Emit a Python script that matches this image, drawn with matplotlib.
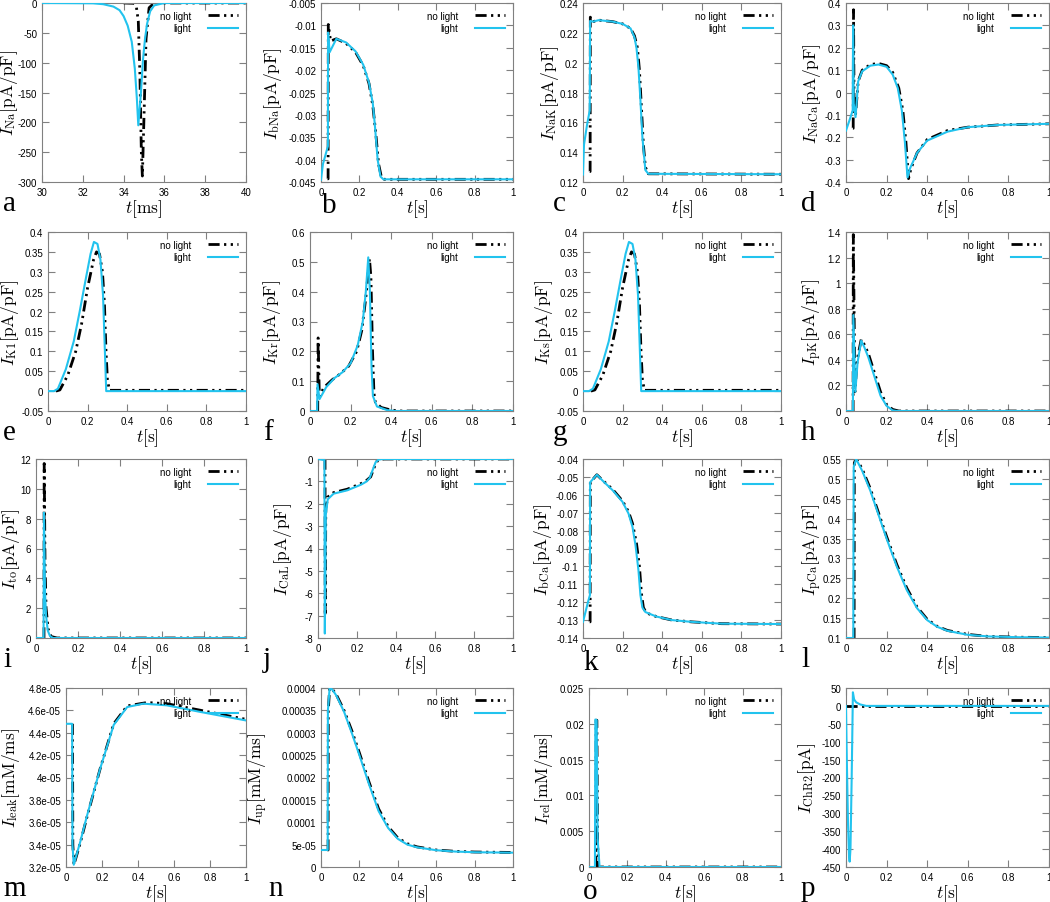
import numpy as np
import matplotlib
matplotlib.use('Agg')
from matplotlib import pyplot as plt
from matplotlib.ticker import FixedLocator, FormatStrFormatter

plt.rcParams['font.family'] = ['Liberation Sans', 'DejaVu Sans']
plt.rcParams['mathtext.fontset'] = 'cm'

LIGHT = '#22c3ee'
FRAME = '#808080'

# ---- data: (t, value) for "no light" (0) and "light" (1) ----
# a: I_Na, t in ms
na_t0 = [34.0, 34.5, 34.62, 34.72, 34.8, 34.87, 34.92, 35.0, 35.1, 35.25, 35.5, 40]
na_y0 = [0, -0.5, -5, -30, -120, -250, -290, -190, -60, -8, 0, 0]
na_t1 = [30, 32.5, 33.0, 33.5, 33.8, 34.0, 34.2, 34.4, 34.55, 34.65, 34.72, 34.85, 34.95, 35.05, 35.15, 35.3, 35.5, 36, 40]
na_y1 = [0, -0.5, -2, -6, -12, -22, -38, -65, -110, -160, -205, -150, -95, -60, -35, -14, -4, 0, 0]

# b: I_bNa
bna_t0 = [0.034, 0.037, 0.038, 0.05, 0.08, 0.13, 0.18, 0.22, 0.25, 0.27, 0.285, 0.3, 0.315, 0.33, 1.0]
bna_y0 = [-0.0443, -0.0443, -0.0098, -0.0135, -0.0130, -0.0140, -0.0160, -0.0190, -0.0230, -0.0280, -0.0340, -0.0410, -0.0440, -0.0444, -0.0444]
bna_t1 = [0, 0.01, 0.036, 0.037, 0.045, 0.08, 0.13, 0.18, 0.22, 0.25, 0.27, 0.28, 0.295, 0.31, 0.325, 1.0]
bna_y1 = [-0.0445, -0.041, -0.037, -0.0116, -0.0160, -0.0130, -0.0138, -0.0158, -0.0188, -0.0228, -0.0275, -0.0320, -0.0400, -0.0438, -0.0444, -0.0444]

# c: I_NaK
nak_t0 = [0.034, 0.036, 0.037, 0.05, 0.08, 0.15, 0.2, 0.24, 0.26, 0.275, 0.285, 0.295, 0.305, 0.315, 0.33, 1.0]
nak_y0 = [0.127, 0.127, 0.2305, 0.2275, 0.2285, 0.2275, 0.226, 0.223, 0.218, 0.21, 0.195, 0.17, 0.145, 0.13, 0.1255, 0.1252]
nak_t1 = [0, 0.005, 0.02, 0.034, 0.036, 0.05, 0.08, 0.15, 0.2, 0.24, 0.26, 0.27, 0.28, 0.29, 0.3, 0.315, 0.33, 1.0]
nak_y1 = [0.125, 0.145, 0.158, 0.168, 0.228, 0.2275, 0.2285, 0.2275, 0.226, 0.223, 0.217, 0.21, 0.197, 0.175, 0.15, 0.128, 0.1255, 0.1252]

# d: I_NaCa
naca_t0 = [0.034, 0.0355, 0.037, 0.04, 0.047, 0.06, 0.08, 0.12, 0.16, 0.2, 0.23, 0.26, 0.28, 0.295, 0.308, 0.32, 0.35, 0.4, 0.5, 0.6, 0.75, 1.0]
naca_y0 = [-0.16, -0.16, 0.37, -0.08, -0.1, 0.05, 0.1, 0.125, 0.13, 0.12, 0.09, 0.02, -0.08, -0.22, -0.385, -0.34, -0.27, -0.21, -0.17, -0.155, -0.145, -0.14]
naca_t1 = [0, 0.015, 0.033, 0.035, 0.038, 0.047, 0.06, 0.08, 0.12, 0.16, 0.2, 0.23, 0.255, 0.275, 0.29, 0.303, 0.315, 0.35, 0.4, 0.5, 0.6, 0.75, 1.0]
naca_y1 = [-0.17, -0.13, -0.08, 0.3, -0.05, -0.11, 0.05, 0.095, 0.12, 0.125, 0.115, 0.08, 0.02, -0.08, -0.22, -0.38, -0.34, -0.27, -0.215, -0.175, -0.155, -0.145, -0.14]

# e: I_K1
k1_t0 = [0.04, 0.06, 0.1, 0.14, 0.17, 0.2, 0.23, 0.245, 0.26, 0.275, 0.285, 0.293, 0.3, 0.31, 1.0]
k1_y0 = [0, 0.003, 0.04, 0.1, 0.17, 0.26, 0.33, 0.35, 0.345, 0.3, 0.22, 0.1, 0.03, 0.002, 0.002]
k1_t1 = [0, 0.03, 0.05, 0.09, 0.13, 0.16, 0.19, 0.215, 0.232, 0.25, 0.265, 0.278, 0.286, 0.294, 1.0]
k1_y1 = [0, 0, 0.006, 0.055, 0.125, 0.2, 0.28, 0.345, 0.375, 0.37, 0.33, 0.24, 0.12, 0.0, 0.0]

# f: I_Kr
kr_t0 = [0.034, 0.038, 0.04, 0.046, 0.07, 0.11, 0.15, 0.19, 0.23, 0.255, 0.275, 0.293, 0.3, 0.308, 0.315, 0.322, 0.35, 0.4, 0.45, 1.0]
kr_y0 = [0, 0, 0.245, 0.05, 0.08, 0.105, 0.125, 0.15, 0.2, 0.27, 0.38, 0.51, 0.45, 0.2, 0.06, 0.03, 0.012, 0.003, 0, 0]
kr_t1 = [0, 0.035, 0.037, 0.047, 0.08, 0.12, 0.16, 0.2, 0.235, 0.26, 0.275, 0.287, 0.295, 0.303, 0.31, 0.33, 0.38, 0.42, 1.0]
kr_y1 = [0, 0, 0.09, 0.04, 0.08, 0.11, 0.13, 0.16, 0.22, 0.3, 0.4, 0.515, 0.4, 0.15, 0.05, 0.015, 0.003, 0, 0]

# g: I_Ks
ks_t0 = [0.04, 0.06, 0.1, 0.14, 0.17, 0.2, 0.23, 0.245, 0.26, 0.275, 0.285, 0.293, 0.3, 0.31, 1.0]
ks_y0 = [0, 0.003, 0.04, 0.1, 0.17, 0.26, 0.33, 0.35, 0.345, 0.3, 0.22, 0.1, 0.03, 0.002, 0.002]
ks_t1 = [0, 0.03, 0.05, 0.09, 0.13, 0.16, 0.19, 0.215, 0.232, 0.25, 0.265, 0.278, 0.286, 0.294, 1.0]
ks_y1 = [0, 0, 0.006, 0.055, 0.125, 0.2, 0.28, 0.345, 0.375, 0.37, 0.33, 0.24, 0.12, 0.0, 0.0]

# h: I_pK
pk_t0 = [0.034, 0.035, 0.036, 0.044, 0.055, 0.075, 0.09, 0.11, 0.14, 0.17, 0.2, 0.23, 0.26, 1.0]
pk_y0 = [0, 0, 1.38, 0.15, 0.4, 0.56, 0.52, 0.45, 0.3, 0.15, 0.05, 0.012, 0, 0]
pk_t1 = [0, 0.034, 0.036, 0.046, 0.057, 0.075, 0.09, 0.11, 0.14, 0.17, 0.2, 0.23, 0.25, 1.0]
pk_y1 = [0, 0, 0.75, 0.15, 0.38, 0.55, 0.5, 0.42, 0.27, 0.12, 0.04, 0.005, 0, 0]

# i: I_to
to_t0 = [0.036, 0.038, 0.039, 0.043, 0.048, 0.058, 0.072, 0.1, 1.0]
to_y0 = [0, 0, 11.7, 5, 2, 0.6, 0.1, 0, 0]
to_t1 = [0, 0.036, 0.038, 0.043, 0.048, 0.056, 0.066, 0.08, 1.0]
to_y1 = [0, 0, 8.4, 3, 1.5, 0.5, 0.15, 0, 0]

# j: I_CaL
cal_t0 = [0.034, 0.036, 0.037, 0.04, 0.05, 0.08, 0.15, 0.22, 0.25, 0.27, 0.285, 0.3, 0.32, 0.34, 1.0]
cal_y0 = [0, 0, -7.0, -2.2, -1.7, -1.5, -1.35, -1.1, -0.95, -0.8, -0.45, -0.12, -0.02, 0, 0]
cal_t1 = [0, 0.033, 0.035, 0.04, 0.05, 0.08, 0.15, 0.22, 0.25, 0.265, 0.28, 0.295, 0.31, 0.33, 1.0]
cal_y1 = [0, -0.05, -7.8, -2.5, -1.8, -1.55, -1.4, -1.15, -1.0, -0.85, -0.5, -0.15, -0.03, 0, 0]

# k: I_bCa
bca_t0 = [0.034, 0.036, 0.037, 0.07, 0.1, 0.15, 0.2, 0.23, 0.25, 0.27, 0.285, 0.295, 0.305, 0.32, 0.37, 0.45, 0.55, 0.7, 1.0]
bca_y0 = [-0.131, -0.131, -0.053, -0.0488, -0.052, -0.057, -0.0635, -0.0695, -0.076, -0.087, -0.1, -0.115, -0.123, -0.126, -0.128, -0.13, -0.131, -0.132, -0.1322]
bca_t1 = [0, 0.025, 0.035, 0.036, 0.07, 0.1, 0.15, 0.2, 0.23, 0.25, 0.265, 0.28, 0.29, 0.3, 0.315, 0.37, 0.45, 0.55, 0.7, 1.0]
bca_y1 = [-0.131, -0.12, -0.116, -0.053, -0.0488, -0.0522, -0.0575, -0.064, -0.0705, -0.078, -0.088, -0.102, -0.116, -0.123, -0.1255, -0.128, -0.13, -0.131, -0.132, -0.1322]

# l: I_pCa
pca_t0 = [0.036, 0.04, 0.041, 0.05, 0.08, 0.12, 0.16, 0.2, 0.25, 0.3, 0.35, 0.4, 0.45, 0.5, 0.6, 0.7, 0.85, 1.0]
pca_y0 = [0.1, 0.1, 0.54, 0.552, 0.525, 0.475, 0.415, 0.355, 0.285, 0.225, 0.178, 0.147, 0.129, 0.119, 0.109, 0.104, 0.102, 0.101]
pca_t1 = [0, 0.036, 0.038, 0.05, 0.08, 0.12, 0.16, 0.2, 0.25, 0.3, 0.35, 0.4, 0.45, 0.5, 0.6, 0.7, 0.85, 1.0]
pca_y1 = [0.1, 0.1, 0.53, 0.55, 0.52, 0.47, 0.41, 0.35, 0.28, 0.22, 0.175, 0.145, 0.128, 0.118, 0.108, 0.104, 0.102, 0.101]

# m: I_leak
leak_t0 = [0.036, 0.038, 0.044, 0.08, 0.117, 0.19, 0.265, 0.34, 0.45, 0.56, 0.75, 1.0]
leak_y0 = [4.48e-5, 3.4e-5, 3.22e-5, 3.42e-5, 3.65e-5, 4.08e-5, 4.48e-5, 4.64e-5, 4.67e-5, 4.66e-5, 4.6e-5, 4.52e-5]
leak_t1 = [0, 0.034, 0.036, 0.043, 0.08, 0.117, 0.19, 0.265, 0.34, 0.43, 0.56, 0.75, 1.0]
leak_y1 = [4.48e-5, 4.48e-5, 3.4e-5, 3.22e-5, 3.43e-5, 3.66e-5, 4.08e-5, 4.47e-5, 4.63e-5, 4.66e-5, 4.645e-5, 4.585e-5, 4.51e-5]

# n: I_up
up_t0 = [0.034, 0.037, 0.038, 0.045, 0.06, 0.08, 0.12, 0.16, 0.2, 0.25, 0.3, 0.35, 0.4, 0.45, 0.5, 0.6, 0.7, 0.8, 1.0]
up_y0 = [3.8e-5, 3.8e-5, 3.5e-4, 4.0e-4, 3.97e-4, 3.85e-4, 3.5e-4, 3.05e-4, 2.55e-4, 1.9e-4, 1.3e-4, 9.0e-5, 6.5e-5, 5.2e-5, 4.5e-5, 3.8e-5, 3.5e-5, 3.35e-5, 3.25e-5]
up_t1 = [0, 0.035, 0.036, 0.045, 0.06, 0.08, 0.12, 0.16, 0.2, 0.25, 0.3, 0.35, 0.4, 0.45, 0.5, 0.6, 0.7, 0.8, 1.0]
up_y1 = [3.8e-5, 3.8e-5, 3.5e-4, 4.0e-4, 3.96e-4, 3.83e-4, 3.47e-4, 3.0e-4, 2.5e-4, 1.85e-4, 1.25e-4, 8.7e-5, 6.3e-5, 5.0e-5, 4.4e-5, 3.75e-5, 3.45e-5, 3.3e-5, 3.2e-5]

# o: I_rel
rel_t0 = [0.034, 0.036, 0.037, 0.041, 0.045, 0.05, 1.0]
rel_y0 = [0, 0, 0.0205, 0.0205, 0.003, 0, 0]
rel_t1 = [0, 0.031, 0.033, 0.04, 0.045, 0.055, 1.0]
rel_y1 = [0, 0, 0.0206, 0.0205, 0.004, 0, 0]

# p: I_ChR2
chr_t0 = [0, 1.0]
chr_y0 = [0, 0]
chr_t1 = [0, 0.004, 0.01, 0.015, 0.018, 0.022, 0.028, 0.034, 0.04, 0.05, 0.07, 0.1, 1.0]
chr_y1 = [0, -150, -330, -420, -435, -400, -200, 38, 18, 10, 4, 0, 0]

panels = [
    ('a', na_t0, na_y0, na_t1, na_y1, r'$I_{\rm Na}[{\rm pA/pF}]$', (-300, 0, 7)),
    ('b', bna_t0, bna_y0, bna_t1, bna_y1, r'$I_{\rm bNa}[{\rm pA/pF}]$', (-0.045, -0.005, 9)),
    ('c', nak_t0, nak_y0, nak_t1, nak_y1, r'$I_{\rm NaK}[{\rm pA/pF}]$', (0.12, 0.24, 7)),
    ('d', naca_t0, naca_y0, naca_t1, naca_y1, r'$I_{\rm NaCa}[{\rm pA/pF}]$', (-0.4, 0.4, 9)),
    ('e', k1_t0, k1_y0, k1_t1, k1_y1, r'$I_{\rm K1}[{\rm pA/pF}]$', (-0.05, 0.4, 10)),
    ('f', kr_t0, kr_y0, kr_t1, kr_y1, r'$I_{\rm Kr}[{\rm pA/pF}]$', (0, 0.6, 7)),
    ('g', ks_t0, ks_y0, ks_t1, ks_y1, r'$I_{\rm Ks}[{\rm pA/pF}]$', (-0.05, 0.4, 10)),
    ('h', pk_t0, pk_y0, pk_t1, pk_y1, r'$I_{\rm pK}[{\rm pA/pF}]$', (0, 1.4, 8)),
    ('i', to_t0, to_y0, to_t1, to_y1, r'$I_{\rm to}[{\rm pA/pF}]$', (0, 12, 7)),
    ('j', cal_t0, cal_y0, cal_t1, cal_y1, r'$I_{\rm CaL}[{\rm pA/pF}]$', (-8, 0, 9)),
    ('k', bca_t0, bca_y0, bca_t1, bca_y1, r'$I_{\rm bCa}[{\rm pA/pF}]$', (-0.14, -0.04, 11)),
    ('l', pca_t0, pca_y0, pca_t1, pca_y1, r'$I_{\rm pCa}[{\rm pA/pF}]$', (0.1, 0.55, 10)),
    ('m', leak_t0, leak_y0, leak_t1, leak_y1, r'$I_{\rm leak}[{\rm mM/ms}]$', (3.2e-5, 4.8e-5, 9)),
    ('n', up_t0, up_y0, up_t1, up_y1, r'$I_{\rm up}[{\rm mM/ms}]$', (0, 4e-4, 9)),
    ('o', rel_t0, rel_y0, rel_t1, rel_y1, r'$I_{\rm rel}[{\rm mM/ms}]$', (0, 0.025, 6)),
    ('p', chr_t0, chr_y0, chr_t1, chr_y1, r'$I_{\rm ChR2}[{\rm pA}]$', (-450, 50, 11)),
]

# layout in pixels: plot-area left edges, column right edges, row top/bottom,
# y-label centre x, panel-letter x and letter baseline offset below the axes
W, H = 1050, 903
lefts = [42, 321, 583, 846, 48, 310, 583, 846, 36, 318, 583, 846, 66, 321, 589, 846]
rights = [246, 513, 781, 1049]
rows = [(4, 183), (233, 412), (460, 639), (689, 868)]
ylab_x = [9.5, 273, 550, 812, 10, 272, 544, 812, 11, 283, 543, 812, 11, 258, 544, 807]
letter_x = [3, 322, 553, 801, 3, 263, 553, 801, 3, 263, 583, 801, 3, 268, 583, 801]
letter_dy = [28, 30, 28, 28, 28, 28, 28, 28, 28, 28, 31, 28, 28, 28, 31, 28]

fig = plt.figure(figsize=(W / 100, H / 100), dpi=100)

for idx, (letter, t0, y0, t1, y1, ylab, (ylo, yhi, nt)) in enumerate(panels):
    r, c = divmod(idx, 4)
    top, bot = rows[r]
    x0, x1 = lefts[idx], rights[c]
    ax = fig.add_axes([x0 / W, 1 - bot / H, (x1 - x0) / W, (bot - top) / H])

    ax.plot(t0, y0, color='black', lw=2.0, ls=(0, (4, 1.6, 0.8, 1.6, 0.8, 1.6)),
            label='no light', zorder=2)
    ax.plot(t1, y1, color=LIGHT, lw=1.5, label='light', zorder=3)

    if letter == 'a':
        ax.set_xlim(30, 40)
        ax.xaxis.set_major_locator(FixedLocator(np.arange(30, 41, 2)))
        ax.set_xlabel(r'$t[{\rm ms}]$', fontsize=12.5, labelpad=0)
    else:
        ax.set_xlim(0, 1)
        ax.xaxis.set_major_locator(FixedLocator(np.round(np.linspace(0, 1, 6), 10)))
        ax.set_xlabel(r'$t[{\rm s}]$', fontsize=12.5, labelpad=0)
    ax.set_ylim(ylo, yhi)
    ax.yaxis.set_major_locator(FixedLocator(np.round(np.linspace(ylo, yhi, nt), 12)))
    ax.xaxis.set_major_formatter(FormatStrFormatter('%g'))
    ax.yaxis.set_major_formatter(FormatStrFormatter('%g'))
    ax.set_ylabel(ylab, fontsize=12.5, va='center')
    ax.yaxis.set_label_coords((ylab_x[idx] - x0) / (x1 - x0), 0.5)

    ax.tick_params(direction='in', length=5, width=0.8, color=FRAME, labelsize=7,
                   top=True, right=True, pad=3.5)
    for sp in ax.spines.values():
        sp.set_color(FRAME)
        sp.set_linewidth(0.8)

    ax.legend(loc='upper right', frameon=False, fontsize=7, markerfirst=False,
              handlelength=3.1, handletextpad=1.7, labelspacing=0.25,
              borderpad=0.5, borderaxespad=0.3)

    fig.text(letter_x[idx] / W, 1 - (bot + letter_dy[idx]) / H, letter, fontsize=21,
             family=['Liberation Serif', 'DejaVu Serif'], va='baseline', ha='left')

fig.savefig('out.png', dpi=100)
